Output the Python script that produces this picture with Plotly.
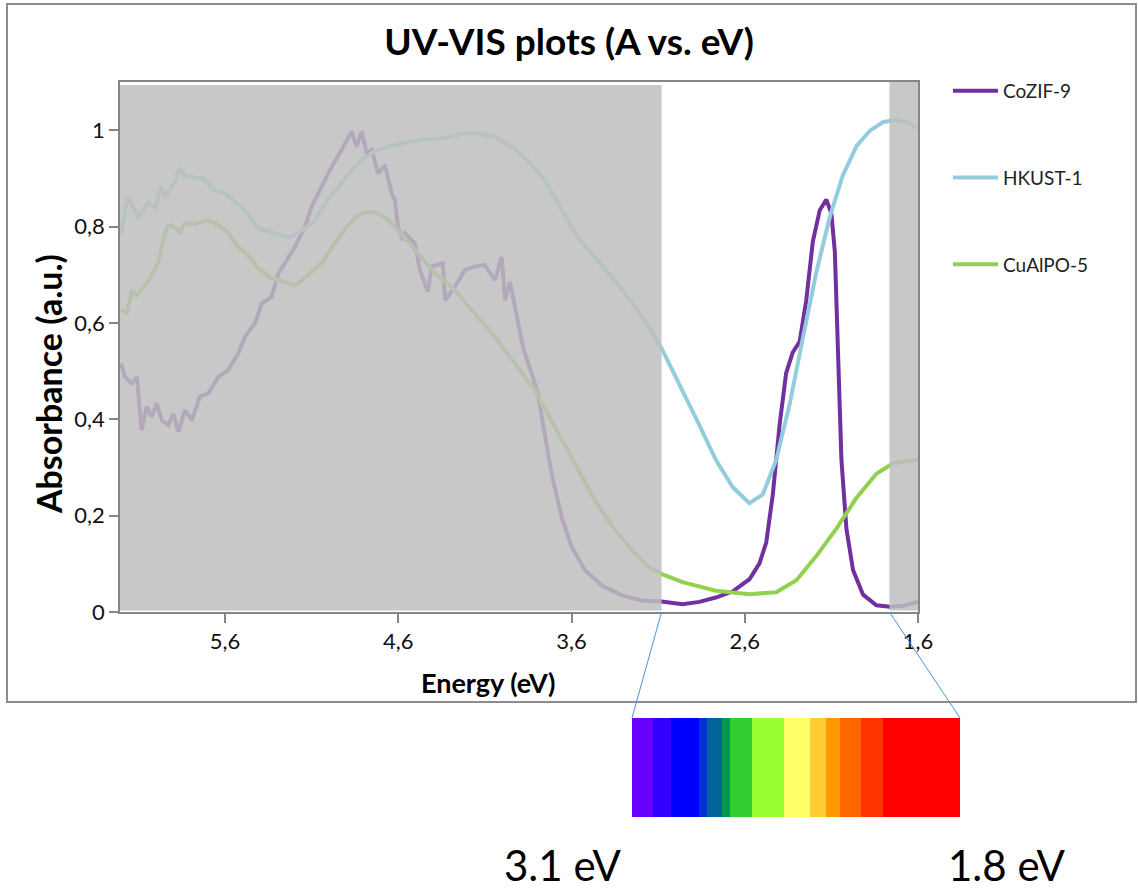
import plotly.graph_objects as go

# ---------------- data ----------------
series_names = ["CoZIF-9", "HKUST-1", "CuAlPO-5"]

cozif9_ev = [6.200, 6.177, 6.138, 6.109, 6.081, 6.052, 6.023, 5.994, 5.965, 5.927,
             5.898, 5.869, 5.831, 5.792, 5.744, 5.696, 5.639, 5.581, 5.523, 5.485,
             5.427, 5.388, 5.331, 5.292, 5.254, 5.196, 5.138, 5.100, 5.042, 4.984,
             4.927, 4.889, 4.869, 4.840, 4.811, 4.782, 4.754, 4.715, 4.677, 4.638,
             4.619, 4.602, 4.573, 4.561, 4.504, 4.475, 4.429, 4.407, 4.342, 4.330,
             4.273, 4.215, 4.157, 4.100, 4.042, 4.003, 3.984, 3.955, 3.909, 3.880,
             3.830, 3.794, 3.765, 3.715, 3.657, 3.599, 3.523, 3.426, 3.311, 3.196,
             3.080, 2.959, 2.862, 2.767, 2.669, 2.573, 2.515, 2.476, 2.438, 2.399,
             2.361, 2.323, 2.283, 2.245, 2.207, 2.167, 2.129, 2.100, 2.080, 2.061,
             2.042, 2.013, 1.975, 1.917, 1.840, 1.763, 1.685, 1.600]
cozif9_abs = [0.516, 0.488, 0.475, 0.488, 0.377, 0.426, 0.405, 0.433, 0.398, 0.388,
              0.412, 0.374, 0.419, 0.398, 0.447, 0.454, 0.488, 0.502, 0.537, 0.571,
              0.599, 0.640, 0.654, 0.703, 0.724, 0.758, 0.800, 0.841, 0.883, 0.924,
              0.959, 0.986, 0.997, 0.966, 0.997, 0.952, 0.959, 0.910, 0.928, 0.869,
              0.855, 0.800, 0.772, 0.786, 0.765, 0.710, 0.665, 0.717, 0.724, 0.647,
              0.675, 0.710, 0.717, 0.720, 0.689, 0.737, 0.647, 0.685, 0.606, 0.550,
              0.495, 0.454, 0.391, 0.287, 0.197, 0.135, 0.087, 0.055, 0.035, 0.024,
              0.022, 0.016, 0.021, 0.030, 0.043, 0.068, 0.101, 0.144, 0.244, 0.388,
              0.496, 0.539, 0.561, 0.647, 0.769, 0.834, 0.856, 0.827, 0.748, 0.532,
              0.316, 0.172, 0.087, 0.036, 0.014, 0.011, 0.013, 0.021]

hkust1_ev = [6.200, 6.161, 6.102, 6.044, 6.004, 5.969, 5.946, 5.894, 5.860, 5.831,
             5.773, 5.727, 5.658, 5.600, 5.542, 5.485, 5.410, 5.329, 5.236, 5.179,
             5.081, 5.006, 4.908, 4.810, 4.717, 4.659, 4.573, 4.463, 4.330, 4.232,
             4.140, 4.042, 3.944, 3.852, 3.754, 3.655, 3.563, 3.465, 3.367, 3.275,
             3.177, 3.074, 2.959, 2.862, 2.767, 2.669, 2.573, 2.496, 2.418, 2.341,
             2.265, 2.187, 2.109, 2.034, 1.955, 1.878, 1.801, 1.723, 1.647, 1.600]
hkust1_abs = [0.786, 0.862, 0.818, 0.849, 0.838, 0.884, 0.861, 0.890, 0.921, 0.905,
              0.902, 0.900, 0.876, 0.869, 0.851, 0.834, 0.797, 0.789, 0.778, 0.786,
              0.813, 0.855, 0.900, 0.940, 0.959, 0.965, 0.973, 0.980, 0.983, 0.993,
              0.993, 0.986, 0.965, 0.937, 0.896, 0.834, 0.778, 0.736, 0.695, 0.653,
              0.606, 0.543, 0.460, 0.388, 0.316, 0.259, 0.226, 0.244, 0.316, 0.431,
              0.568, 0.705, 0.820, 0.906, 0.967, 0.999, 1.017, 1.021, 1.014, 1.003]

cualpo5_ev = [6.200, 6.167, 6.138, 6.109, 6.044, 5.987, 5.936, 5.908, 5.860, 5.831,
              5.773, 5.698, 5.640, 5.583, 5.533, 5.467, 5.410, 5.331, 5.254, 5.196,
              5.121, 5.042, 4.965, 4.890, 4.833, 4.775, 4.717, 4.659, 4.619, 4.504,
              4.388, 4.273, 4.157, 4.042, 3.927, 3.811, 3.696, 3.580, 3.465, 3.350,
              3.234, 3.153, 3.074, 2.959, 2.767, 2.573, 2.418, 2.302, 2.187, 2.071,
              1.955, 1.840, 1.743, 1.600]
cualpo5_abs = [0.627, 0.620, 0.665, 0.658, 0.685, 0.724, 0.800, 0.803, 0.789, 0.807,
               0.805, 0.813, 0.803, 0.789, 0.761, 0.741, 0.714, 0.693, 0.685, 0.678,
               0.699, 0.724, 0.765, 0.803, 0.824, 0.831, 0.828, 0.813, 0.800, 0.751,
               0.703, 0.668, 0.620, 0.571, 0.516, 0.460, 0.384, 0.309, 0.232, 0.170,
               0.122, 0.093, 0.078, 0.062, 0.044, 0.037, 0.041, 0.066, 0.116, 0.173,
               0.237, 0.287, 0.309, 0.316]

x_ticks = [5.6, 4.6, 3.6, 2.6, 1.6]
x_tick_labels = ["5,6", "4,6", "3,6", "2,6", "1,6"]
y_ticks = [0, 0.2, 0.4, 0.6, 0.8, 1.0]
y_tick_labels = ["0", "0,2", "0,4", "0,6", "0,8", "1"]

# shaded (non-visible) regions, in eV
uv_edge_ev = 3.08
ir_edge_ev = 1.765
x_left_ev = 6.206
x_right_ev = 1.6

# visible spectrum strip
spectrum_colors = ["#6600FF", "#3300FF", "#0000FF", "#0033CC", "#006699", "#00995A",
                   "#33CC33", "#99FF33", "#FFFF66", "#FFCC33", "#FF9900", "#FF6600",
                   "#FF3300", "#FF0000"]
spectrum_edge_px = [632, 653, 671, 699, 707, 722, 730, 752, 784, 810, 826, 840, 861, 883, 960]
spectrum_labels = ["3.1 eV", "1.8 eV"]

# ---------------- layout geometry ----------------
W, H = 1138, 891
L, R, T, B = 120, 220, 82, 279
PW, PH = W - L - R, H - T - B
FONT = "Lato, 'Open Sans', sans-serif"


def pxx(px):
    return (px - L) / PW


def pxy(py):
    return (H - B - py) / PH


def ev_px(ev):
    return L + (x_left_ev - ev) / (x_left_ev - x_right_ev) * PW


colors = ["#7030A0", "#93CDDD", "#92D050"]
series = [(cozif9_ev, cozif9_abs), (hkust1_ev, hkust1_abs), (cualpo5_ev, cualpo5_abs)]

fig = go.Figure()
for name, (xs, ys), c in zip(series_names, series, colors):
    fig.add_trace(go.Scatter(x=xs, y=ys, mode="lines", name=name, legendgroup=name,
                             line=dict(color=c, width=4), hoverinfo="skip"))

shapes = []
# gray overlays
shapes.append(dict(type="rect", xref="x", yref="y", x0=x_left_ev, x1=uv_edge_ev,
                   y0=0.003, y1=1.094, fillcolor="rgba(190,190,190,0.85)",
                   line=dict(width=0), layer="above"))
shapes.append(dict(type="rect", xref="x", yref="y", x0=ir_edge_ev, x1=x_right_ev,
                   y0=0.003, y1=1.1, fillcolor="rgba(190,190,190,0.85)",
                   line=dict(width=0), layer="above"))
# outer chart border
shapes.append(dict(type="rect", xref="paper", yref="paper", x0=pxx(7), x1=pxx(1136),
                   y0=pxy(702), y1=pxy(4), line=dict(color="#8C8C8C", width=2),
                   fillcolor="rgba(0,0,0,0)", layer="below"))
# spectrum strip
for i, c in enumerate(spectrum_colors):
    shapes.append(dict(type="rect", xref="paper", yref="paper",
                       x0=pxx(spectrum_edge_px[i]), x1=pxx(spectrum_edge_px[i + 1]),
                       y0=pxy(817), y1=pxy(718), fillcolor=c, line=dict(width=0)))
# connector lines
shapes.append(dict(type="line", xref="paper", yref="paper",
                   x0=pxx(ev_px(uv_edge_ev)), y0=0, x1=pxx(spectrum_edge_px[0]), y1=pxy(718),
                   line=dict(color="#4A90D9", width=1)))
shapes.append(dict(type="line", xref="paper", yref="paper",
                   x0=pxx(ev_px(ir_edge_ev)), y0=0, x1=pxx(spectrum_edge_px[-1]), y1=pxy(718),
                   line=dict(color="#4A90D9", width=1)))

annotations = [
    dict(text="<b>Absorbance (a.u.)</b>", xref="paper", yref="paper", x=pxx(48), y=pxy(384),
         textangle=-90, showarrow=False, font=dict(family=FONT, size=34, color="#000"),
         xanchor="center", yanchor="middle"),
    dict(text="<b>Energy (eV)</b>", xref="paper", yref="paper", x=pxx(488), y=pxy(682),
         showarrow=False, font=dict(family=FONT, size=27, color="#000"),
         xanchor="center", yanchor="middle"),
    dict(text=spectrum_labels[0], xref="paper", yref="paper", x=pxx(562), y=pxy(865),
         showarrow=False, font=dict(family=FONT, size=42, color="#000"),
         xanchor="center", yanchor="middle"),
    dict(text=spectrum_labels[1], xref="paper", yref="paper", x=pxx(1006), y=pxy(865),
         showarrow=False, font=dict(family=FONT, size=42, color="#000"),
         xanchor="center", yanchor="middle"),
]

axis_common = dict(showline=True, linecolor="#868686", linewidth=1.5, mirror=True,
                   ticks="outside", tickcolor="#868686", ticklen=9, tickwidth=1.5,
                   showgrid=False, zeroline=False,
                   tickfont=dict(family=FONT, size=22, color="#111"))

fig.update_layout(
    width=W, height=H,
    margin=dict(l=L, r=R, t=T, b=B, autoexpand=False),
    paper_bgcolor="white", plot_bgcolor="white",
    title=dict(text="<b>UV-VIS plots (A vs. eV)</b>", xref="container", x=0.5,
               xanchor="center", yref="container", y=1 - 42 / H, yanchor="middle",
               font=dict(family=FONT, size=37, color="#000")),
    xaxis=dict(range=[x_left_ev, x_right_ev], tickvals=x_ticks, ticktext=x_tick_labels,
               **axis_common),
    yaxis=dict(range=[0, 1.1], tickvals=y_ticks, ticktext=y_tick_labels, **axis_common),
    showlegend=True,
    legend=dict(x=pxx(948), y=pxy(72), xanchor="left", yanchor="top",
                tracegroupgap=59, itemwidth=45, bgcolor="rgba(0,0,0,0)",
                font=dict(family=FONT, size=19, color="#222"), traceorder="grouped"),
    shapes=shapes,
    annotations=annotations,
)

fig.write_html("out.html", config={"displayModeBar": False},
               post_script="document.body.style.margin='0';")
